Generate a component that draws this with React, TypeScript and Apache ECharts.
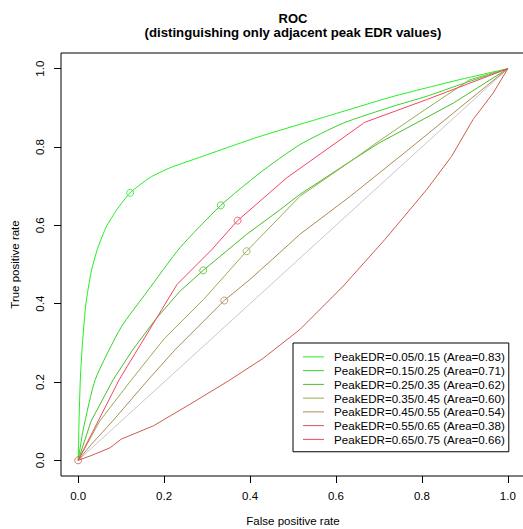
import React, { useEffect, useRef } from "react";
import * as echarts from "echarts";

const titleLines = ["ROC", "(distinguishing only adjacent peak EDR values)"];
const xAxisTitle = "False positive rate";
const yAxisTitle = "True positive rate";
const tickValues = [0, 0.2, 0.4, 0.6, 0.8, 1.0];

const seriesNames = [
  "PeakEDR=0.05/0.15 (Area=0.83)",
  "PeakEDR=0.15/0.25 (Area=0.71)",
  "PeakEDR=0.25/0.35 (Area=0.62)",
  "PeakEDR=0.35/0.45 (Area=0.60)",
  "PeakEDR=0.45/0.55 (Area=0.54)",
  "PeakEDR=0.55/0.65 (Area=0.38)",
  "PeakEDR=0.65/0.75 (Area=0.66)",
];
const seriesColors = ["#22EE22", "#33D426", "#4CBB2C", "#94AE50", "#AC8A56", "#D25A50", "#F54462"];

const fpr1 = [0, 0.002, 0.005, 0.01, 0.018, 0.03, 0.045, 0.065, 0.09, 0.121, 0.167, 0.214, 0.268, 0.423, 0.578, 0.733, 0.888, 1];
const tpr1 = [0, 0.1, 0.207, 0.3, 0.4, 0.48, 0.54, 0.595, 0.64, 0.683, 0.722, 0.747, 0.768, 0.827, 0.878, 0.929, 0.972, 1];

const fpr2 = [0, 0.012, 0.04, 0.1, 0.16, 0.237, 0.332, 0.423, 0.516, 0.617, 0.733, 0.81, 0.888, 1];
const tpr2 = [0, 0.08, 0.207, 0.34, 0.43, 0.543, 0.651, 0.734, 0.806, 0.861, 0.904, 0.929, 0.959, 1];

const fpr3 = [0, 0.03, 0.082, 0.125, 0.18, 0.237, 0.291, 0.392, 0.47, 0.516, 0.64, 0.7, 0.873, 1];
const tpr3 = [0, 0.1, 0.207, 0.279, 0.36, 0.432, 0.485, 0.577, 0.64, 0.679, 0.768, 0.81, 0.912, 1];

const fpr4 = [0, 0.05, 0.125, 0.2, 0.292, 0.392, 0.516, 0.64, 0.7, 0.8, 0.912, 1];
const tpr4 = [0, 0.1, 0.207, 0.31, 0.411, 0.534, 0.674, 0.768, 0.815, 0.89, 0.972, 1];

const fpr5 = [0, 0.03, 0.08, 0.164, 0.226, 0.34, 0.4, 0.477, 0.516, 0.633, 0.765, 0.888, 1];
const tpr5 = [0, 0.04, 0.1, 0.207, 0.283, 0.408, 0.462, 0.538, 0.577, 0.674, 0.79, 0.9, 1];

const fpr6 = [0, 0.03, 0.074, 0.1, 0.175, 0.26, 0.35, 0.43, 0.516, 0.617, 0.714, 0.811, 0.869, 0.919, 0.966, 1];
const tpr6 = [0, 0.012, 0.032, 0.054, 0.088, 0.143, 0.203, 0.26, 0.334, 0.445, 0.564, 0.691, 0.776, 0.87, 0.938, 1];

const fpr7 = [0, 0.096, 0.23, 0.311, 0.371, 0.485, 0.667, 0.811, 1];
const tpr7 = [0, 0.207, 0.449, 0.538, 0.612, 0.721, 0.863, 0.921, 1];

const diagonalFpr = [0, 1];
const diagonalTpr = [0, 1];

const markerFpr = [0.121, 0.332, 0.291, 0.392, 0.34, 0, 0.371];
const markerTpr = [0.683, 0.651, 0.485, 0.534, 0.408, 0, 0.612];

const allFpr = [fpr1, fpr2, fpr3, fpr4, fpr5, fpr6, fpr7];
const allTpr = [tpr1, tpr2, tpr3, tpr4, tpr5, tpr6, tpr7];

const FONT = "'Liberation Sans', Arial, Helvetica, sans-serif";

export default function App() {
  const ref = useRef<HTMLDivElement>(null);

  useEffect(() => {
    if (!ref.current) return;
    const chart = echarts.init(ref.current, undefined, { renderer: "svg" });

    const lineSeries: any[] = allFpr.map((xs, i) => ({
      type: "line",
      name: seriesNames[i],
      data: xs.map((x, j) => [x, allTpr[i][j]]),
      showSymbol: false,
      symbol: "none",
      smooth: i < 2 ? 0.2 : false,
      lineStyle: { color: seriesColors[i], width: 1 },
      itemStyle: { color: seriesColors[i] },
      z: 3,
    }));

    const markerSeries: any[] = markerFpr.map((x, i) => ({
      type: "scatter",
      name: "marker" + i,
      data: [[x, markerTpr[i]]],
      symbol: "circle",
      symbolSize: 7,
      itemStyle: { color: "transparent", borderColor: seriesColors[i], borderWidth: 1 },
      z: 4,
    }));

    chart.setOption({
      animation: false,
      backgroundColor: "#fff",
      textStyle: { fontFamily: FONT },
      grid: {
        left: 61, top: 53, right: 1, bottom: 53,
        containLabel: false, outerBoundsMode: "none",
        show: true, borderColor: "#000", borderWidth: 1, backgroundColor: "transparent",
      },
      xAxis: {
        type: "value",
        min: -0.04,
        max: 1.04,
        axisLine: { show: false, onZero: false },
        splitLine: { show: false },
        axisTick: { show: true, length: 7, lineStyle: { color: "#000" }, customValues: tickValues },
        axisLabel: { customValues: tickValues, formatter: (v: number) => v.toFixed(1), fontSize: 11.5, color: "#000", fontFamily: FONT, margin: 14 },
        name: xAxisTitle,
        nameLocation: "middle",
        nameGap: 39,
        nameTextStyle: { fontSize: 11.5, color: "#000", fontFamily: FONT },
      },
      yAxis: {
        type: "value",
        min: -0.04,
        max: 1.04,
        axisLine: { show: false, onZero: false },
        splitLine: { show: false },
        axisTick: { show: true, length: 7, lineStyle: { color: "#000" }, customValues: tickValues },
        axisLabel: { customValues: tickValues, formatter: (v: number) => v.toFixed(1), fontSize: 11.5, color: "#000", fontFamily: FONT, rotate: 90, margin: 15 },
        name: yAxisTitle,
        nameLocation: "middle",
        nameGap: 40,
        nameTextStyle: { fontSize: 11.5, color: "#000", fontFamily: FONT },
      },
      legend: {
        data: seriesNames,
        orient: "vertical",
        left: 293,
        top: 343,
        icon: "rect",
        itemWidth: 21,
        itemHeight: 1,
        itemGap: 0,
        padding: [7, 4, 5.5, 10],
        borderColor: "#000",
        borderWidth: 1,
        backgroundColor: "#fff",
        selectedMode: false,
        textStyle: { fontSize: 11.6, color: "#000", fontFamily: FONT, lineHeight: 13.75, padding: [0, 0, 0, 5] },
      },
      graphic: [
        { type: "text", x: 293, y: 18, style: { text: titleLines[0], font: "bold 13px " + FONT, fill: "#000", textAlign: "center", textVerticalAlign: "middle" } },
        { type: "text", x: 293, y: 32.5, style: { text: titleLines[1], font: "bold 13.2px " + FONT, fill: "#000", textAlign: "center", textVerticalAlign: "middle" } },
      ],
      series: [
        {
          type: "line",
          name: "diagonal",
          data: diagonalFpr.map((x, j) => [x, diagonalTpr[j]]),
          showSymbol: false,
          symbol: "none",
          lineStyle: { color: "#C8C8C8", width: 1 },
          z: 2,
        },
        ...lineSeries,
        ...markerSeries,
      ],
    });

    return () => chart.dispose();
  }, []);

  return (
    <div style={{ position: "absolute", left: 0, top: 0, width: 523, height: 529, overflow: "hidden", background: "#fff" }}>
      <div ref={ref} style={{ width: 526, height: 529 }} />
    </div>
  );
}
